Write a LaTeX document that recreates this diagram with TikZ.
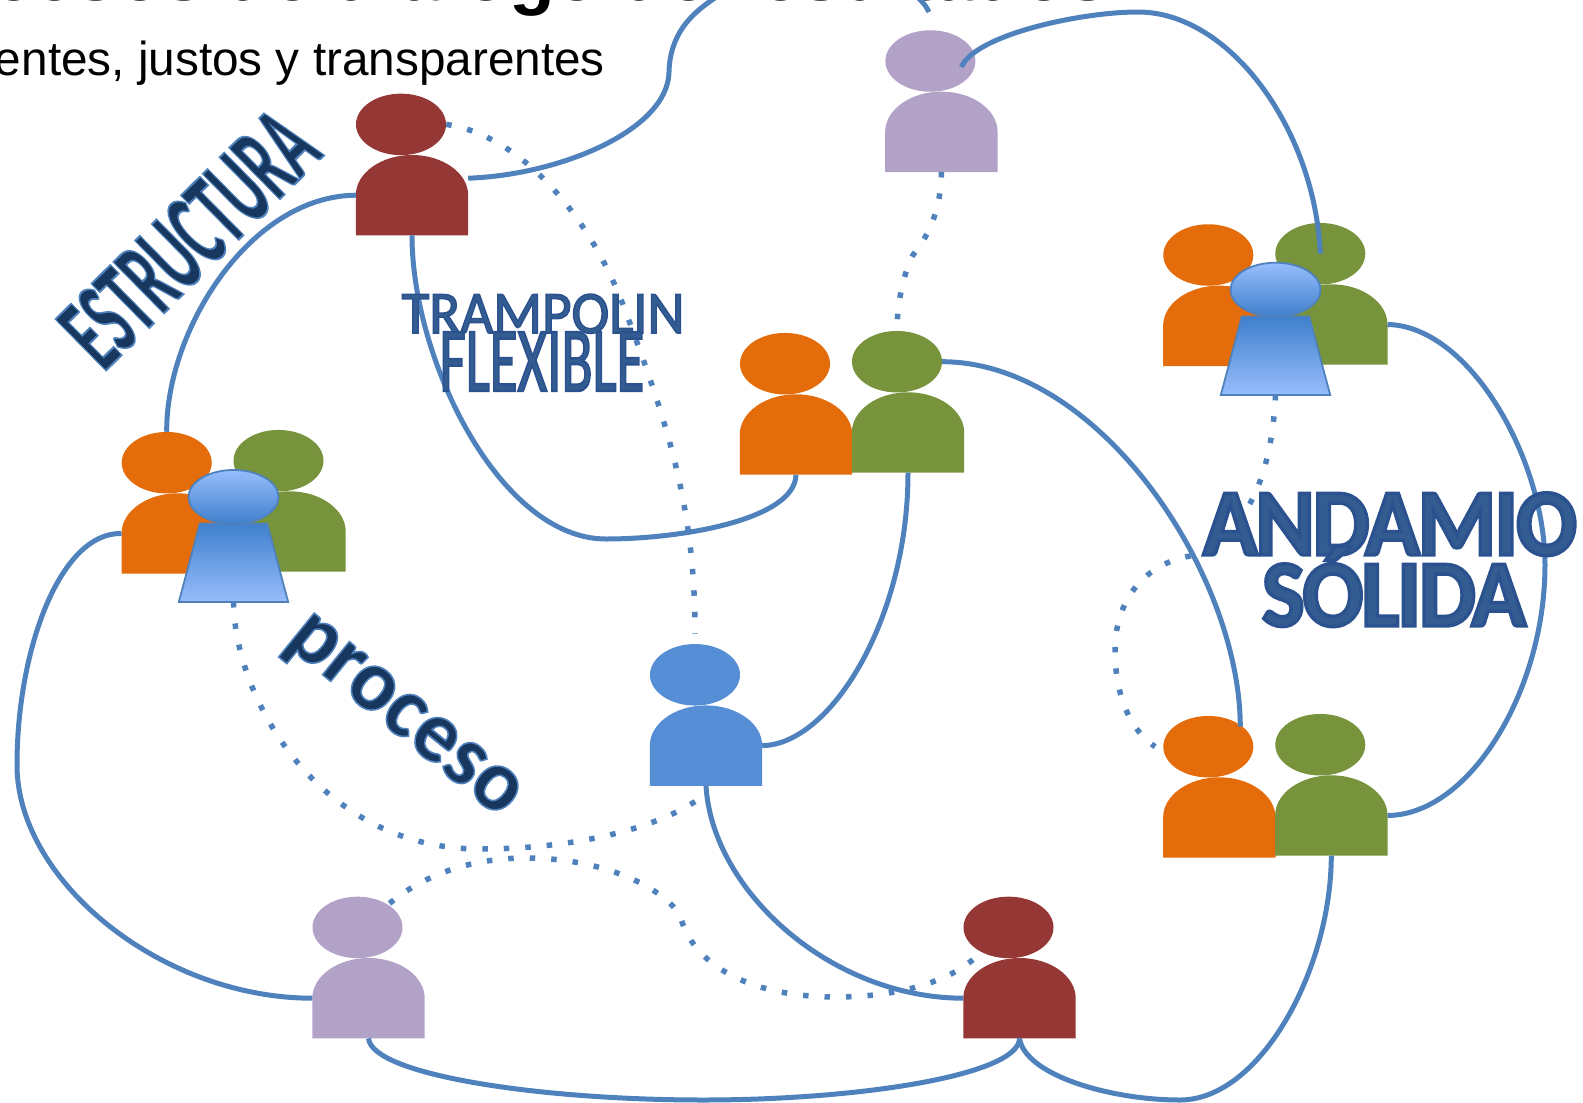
\documentclass[tikz,border=0pt]{standalone}
\usepackage{fontspec}
\usetikzlibrary{shapes.geometric}
\setmainfont{Liberation Sans}
\newfontfamily\waA[FakeBold=1.8]{Carlito Bold}
\newfontfamily\waB[FakeBold=3.6,LetterSpace=-2.5]{Carlito Bold}
\newfontfamily\waC[FakeBold=2.6]{Carlito}
\definecolor{cbrown}{HTML}{953735}
\definecolor{clilac}{HTML}{B3A2C7}
\definecolor{corange}{HTML}{E46C0A}
\definecolor{cgreen}{HTML}{77933C}
\definecolor{cblue}{HTML}{558ED5}
\definecolor{cline}{HTML}{4F81BD}
\definecolor{glight}{HTML}{97BDFC}
\definecolor{gdark}{HTML}{3F80CD}
\definecolor{navy}{HTML}{17375E}
\definecolor{steel}{HTML}{335D91}
\tikzset{
  headshape/.style={ellipse,inner sep=0pt,minimum width=90pt,minimum height=61.5pt},
  bodybox/.style={rectangle,inner sep=0pt,minimum width=112pt,minimum height=80pt},
  conn/.style={draw=cline,line width=5pt},
  dotconn/.style={draw=cline,line width=5.5pt,dash pattern=on 5.5pt off 16pt},
  leaderhead/.style={ellipse,inner sep=0pt,minimum width=90pt,minimum height=54pt,draw=cline,line width=1.8pt,top color=glight,bottom color=gdark},
  leaderbox/.style={rectangle,inner sep=0pt,minimum width=109pt,minimum height=78pt},
  leaderfill/.style={draw=cline,line width=1.8pt,top color=gdark,bottom color=glight},
  wordart/.style={inner sep=0pt,anchor=base,transform shape},
  navyart/.style={wordart,text=navy},
  steelart/.style={wordart,text=steel}
}
\newcommand{\strokeblue}{\special{pdf:code 0.31 0.51 0.74 RG}}
\newcommand{\strokedark}{\special{pdf:code 0.17 0.32 0.56 RG}}
% \person{name}{head left}{head top}{colour}
\newcommand{\person}[4]{%
  \node[headshape,fill=#4] (#1-h) at (#2+45,#3+30.7) {};
  \node[bodybox] (#1-b) at (#2+56,#3+101.5) {};
  \fill[#4] (#1-b.south west) -- (#1-b.west)
    .. controls ([yshift=22pt]#1-b.west) and ([xshift=-31pt]#1-b.north) .. (#1-b.north)
    .. controls ([xshift=31pt]#1-b.north) and ([yshift=22pt]#1-b.east) .. (#1-b.east)
    -- (#1-b.south east) -- cycle;
}
% \leader{name}{centre x}{head centre y}{body centre y}
\newcommand{\leader}[4]{%
  \node[leaderhead] (#1-h) at (#2,#3) {};
  \node[leaderbox] (#1-b) at (#2,#4) {};
  \path[leaderfill] ([xshift=21pt]#1-b.north west) -- ([xshift=-21pt]#1-b.north east)
    -- (#1-b.south east) -- (#1-b.south west) -- cycle;
}
\begin{document}
\begin{tikzpicture}[x=1pt,y=-1pt]
\clip (0,0) rectangle (1583,1103);
% titles
\node[anchor=base west,inner sep=0pt,font=\fontsize{75}{75}\selectfont\bfseries] (title) at (-133,0) {Procesos de diálogo de resultados};
\node[anchor=base east,inner sep=0pt,font=\fontsize{47.7}{47.7}\selectfont] (subtitle) at (605,75) {entes, justos y transparentes};
% people
\person{brownA}{356}{93.7}{cbrown}
\person{lilacA}{885.4}{30.3}{clilac}
\person{cenO}{740}{333}{corange}
\person{cenG}{852}{331}{cgreen}
\person{trO}{1163.3}{224.3}{corange}
\person{trG}{1275.3}{223}{cgreen}
\person{lfO}{121.7}{432}{corange}
\person{lfG}{233.5}{430}{cgreen}
\person{blueM}{650}{644.1}{cblue}
\person{lilacB}{312.5}{896.7}{clilac}
\person{brownB}{963.5}{896.7}{cbrown}
\person{brO}{1163.3}{716}{corange}
\person{brG}{1275.3}{714}{cgreen}
% gradient figures
\leader{trL}{1275.5}{289.7}{355.7}
\leader{lfL}{233.5}{497}{562.8}
% free ends
\coordinate (lilacEnd) at (929,12);
% solid connectors
\path[conn] ([yshift=17pt]brownA-b.east) .. controls (560,175) and (668,130) .. (669,72)
  .. controls (670,35) and (690,15) .. (712,0)
  .. controls (760,-35) and (905,-40) .. (lilacEnd);
\path[conn] ([xshift=31pt,yshift=-6pt]lilacA-h.center) .. controls (975,35) and (1080,12) .. (1138,12)
  .. controls (1230,12) and (1315,130) .. (trG-h.center);
\path[conn] (brownA-b.west) .. controls (250,196) and (166,330) .. (lfO-h.north);
\path[conn] (brownA-b.south) .. controls (412,360) and (500,539) .. (606,539)
  .. controls (680,539) and (795,520) .. (cenO-b.south);
\path[conn] (cenG-h.east) .. controls (1100,362) and (1240,575) .. ([xshift=32pt,yshift=20pt]brO-h.center);
\path[conn] (cenG-b.south) .. controls (908,620) and (830,745) .. (blueM-b.east);
\path[conn] (blueM-b.south) .. controls (712,890) and (830,998) .. (brownB-b.west);
\path[conn] (lfO-b.west) .. controls (60,532) and (17,650) .. (17,765)
  .. controls (17,880) and (160,998) .. (lilacB-b.west);
\path[conn] (lilacB-b.south) .. controls (372,1075) and (540,1100) .. (703,1100)
  .. controls (860,1100) and (1019,1075) .. (brownB-b.south);
\path[conn] (brownB-b.south) .. controls (1025,1075) and (1110,1100) .. (1180,1100)
  .. controls (1260,1100) and (1331,970) .. (brG-b.south);
\path[conn] (trG-b.east) .. controls (1470,326) and (1545,460) .. (1545,565)
  .. controls (1545,690) and (1470,815) .. (brG-b.east);
% dotted connectors
\path[dotconn] (brownA-h.east) .. controls (520,135) and (590,215) .. (625,310)
  .. controls (670,430) and (695,510) .. ([yshift=10pt]blueM-h.north);
\path[dotconn] (lilacA-b.south) .. controls (941,215) and (925,240) .. (913,255)
  .. controls (905,270) and (897,300) .. (cenG-h.north);
\path[dotconn] (trL-b.south) .. controls (1272,470) and (1250,535) .. (1190,556)
  .. controls (1140,565) and (1115,605) .. (1115,650)
  .. controls (1115,695) and (1130,730) .. ([xshift=-8pt]brO-h.west);
\path[dotconn] (lfL-b.south) .. controls (235,700) and (320,849) .. (480,849)
  .. controls (570,849) and (660,830) .. ([yshift=-8pt]blueM-b.south);
\path[dotconn] ([xshift=32pt,yshift=24pt]lilacB-h.center) .. controls (430,870) and (480,858) .. (526,858)
  .. controls (600,858) and (660,885) .. (680,915)
  .. controls (692,965) and (750,997) .. (836,997)
  .. controls (890,997) and (945,985) .. ([xshift=-33pt,yshift=-30pt]brownB-h.center);
% word art
\node[navyart,rotate=44.6,xscale=0.51] (wEstructura) at (214,264) {\fontsize{111}{111}\waA\strokeblue ESTRUCTURA};
\node[navyart,rotate=-39,xscale=0.97] (wProceso) at (392,731) {\fontsize{88}{88}\waA\strokeblue proceso};
\node[steelart,xscale=0.95] (wTrampolin) at (543,333) {\fontsize{60}{60}\waC\strokedark TRAMPOLIN};
\node[steelart,xscale=0.62] (wFlexible) at (542,391) {\fontsize{92}{92}\waC\strokedark FLEXIBLE};
\node[steelart,xscale=0.95] (wAndamio) at (1390,555) {\fontsize{95}{95}\waB\strokedark ANDAMIO};
\node[steelart,xscale=0.95] (wSolida) at (1394,626) {\fontsize{95}{95}\waB\strokedark SÓLIDA};
\end{tikzpicture}
\end{document}
